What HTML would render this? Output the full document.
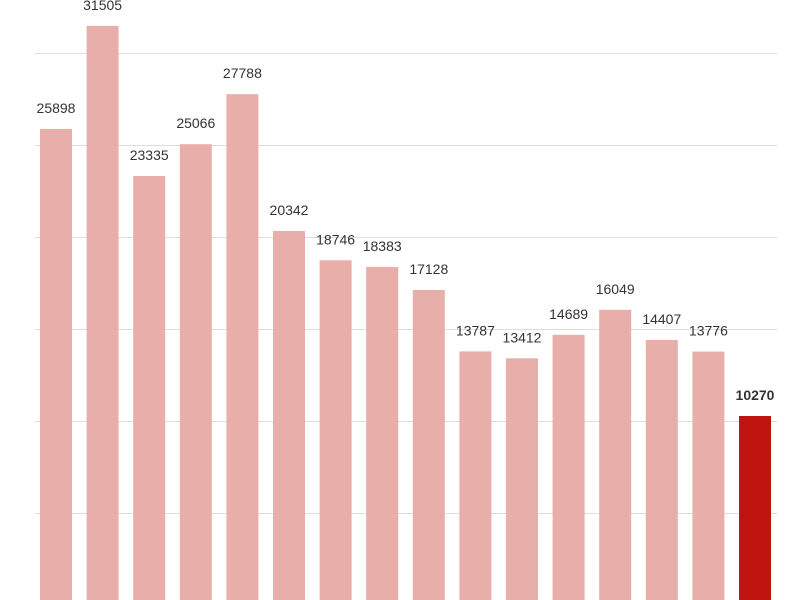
<!DOCTYPE html>
<html><head><meta charset="utf-8"><style>
html,body{margin:0;padding:0;background:#fff;width:800px;height:600px;overflow:hidden}
svg text{font-family:"Liberation Sans","DejaVu Sans",sans-serif;font-size:14px;fill:#333;text-anchor:middle}
</style></head><body>
<svg width="800" height="600" xmlns="http://www.w3.org/2000/svg">
<g stroke="#dddddd" stroke-width="1">
<line x1="35" x2="777" y1="53.5" y2="53.5"/>
<line x1="35" x2="777" y1="145.5" y2="145.5"/>
<line x1="35" x2="777" y1="237.5" y2="237.5"/>
<line x1="35" x2="777" y1="329.5" y2="329.5"/>
<line x1="35" x2="777" y1="421.5" y2="421.5"/>
<line x1="35" x2="777" y1="513.5" y2="513.5"/>
</g>
<g id="bars"></g>
</svg>
<script>
var v=[25898,31505,23335,25066,27788,20342,18746,18383,17128,13787,13412,14689,16049,14407,13776,10270];
var g=document.getElementById('bars'),ns='http://www.w3.org/2000/svg';
v.forEach(function(d,i){
 var x=40+46.6*i, top=604.7-d*0.018373;
 var r=document.createElementNS(ns,'rect');
 r.setAttribute('x',x.toFixed(1));r.setAttribute('y',top.toFixed(1));
 r.setAttribute('width',32);r.setAttribute('height',(600-top).toFixed(1));
 r.setAttribute('fill',i==15?'#c0140f':'#e8aeaa');g.appendChild(r);
 var t=document.createElementNS(ns,'text');
 t.setAttribute('x',(x+16).toFixed(1));t.setAttribute('y',(top-16).toFixed(1));
 if(i==15)t.setAttribute('font-weight','bold');
 t.textContent=d;g.appendChild(t);
});
</script>
</body></html>
